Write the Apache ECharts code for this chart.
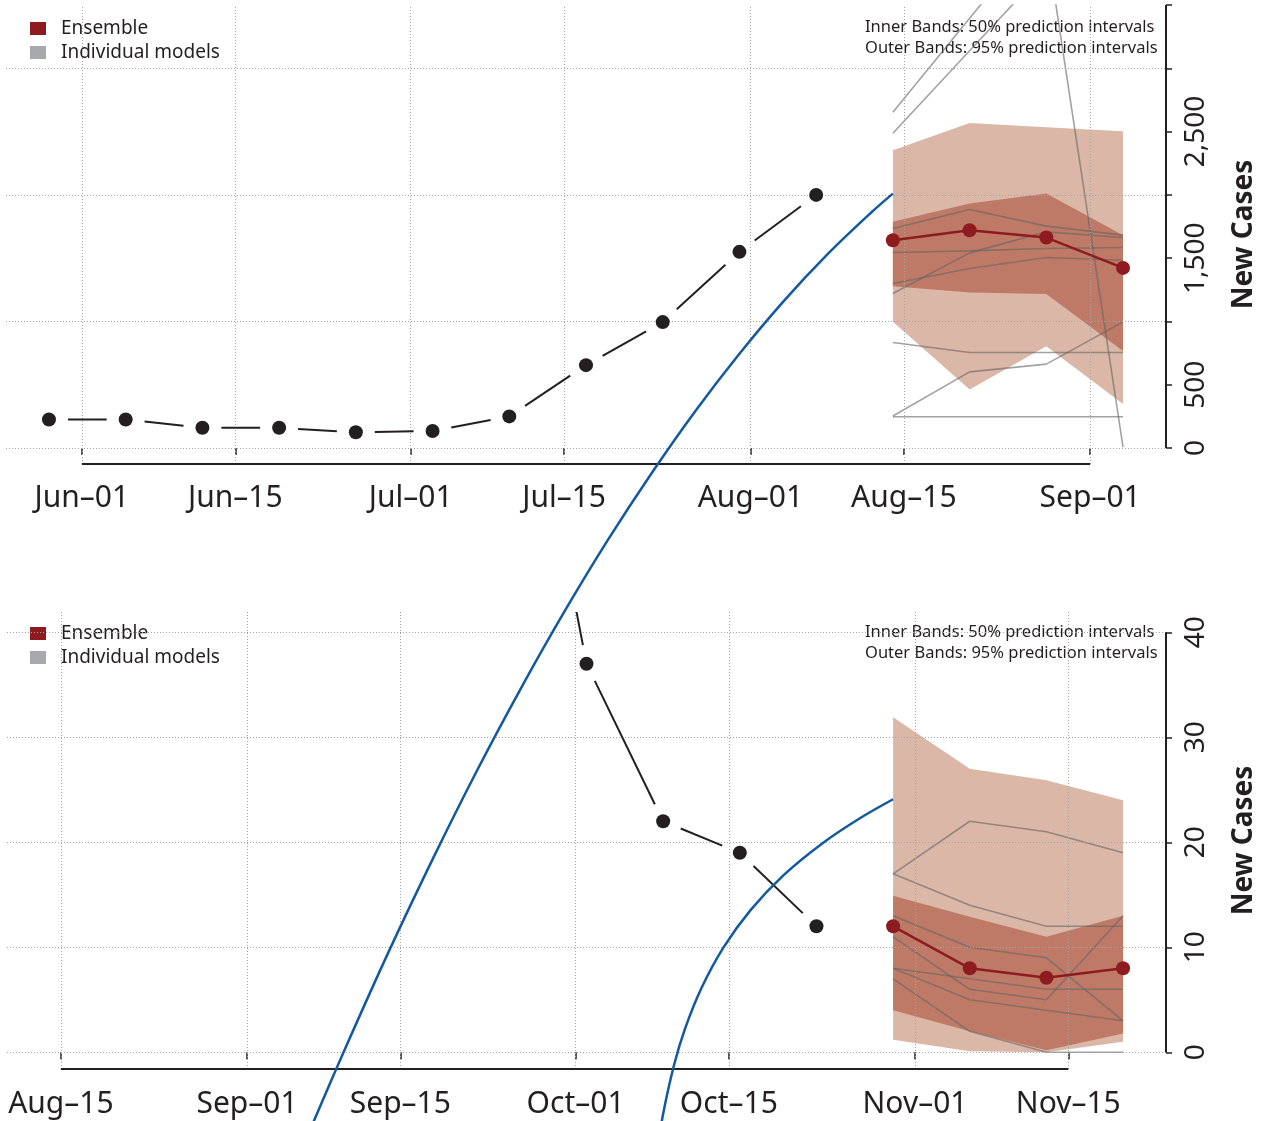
<!DOCTYPE html>
<html><head><meta charset="utf-8">
<script src="https://cdn.jsdelivr.net/npm/echarts@6/dist/echarts.min.js"></script>
<style>html,body{margin:0;padding:0;background:#fff}#c{width:1270px;height:1121px}</style>
</head><body><div id="c"></div><script>
// ---------- data ----------
const topTickDates = ['2020-06-01','2020-06-15','2020-07-01','2020-07-15','2020-08-01','2020-08-15','2020-09-01'];
const topTickLabels = ['Jun\u201301','Jun\u201315','Jul\u201301','Jul\u201315','Aug\u201301','Aug\u201315','Sep\u201301'];
const botTickDates = ['2020-08-15','2020-09-01','2020-09-15','2020-10-01','2020-10-15','2020-11-01','2020-11-15'];
const botTickLabels = ['Aug\u201315','Sep\u201301','Sep\u201315','Oct\u201301','Oct\u201315','Nov\u201301','Nov\u201315'];

const topYTicks = [0,500,1000,1500,2000,2500,3000,3500];
const topYLabelValues = [0,500,1500,2500];
const topYLabels = ['0','500','1,500','2,500'];
const topYGrid = [0,1000,2000,3000];
const botYTicks = [0,10,20,30,40];
const botYLabelValues = [0,10,20,30,40];
const botYLabels = ['0','10','20','30','40'];
const botYGrid = [0,10,20,30,40];

const topDateRange = ['2020-05-29','2020-09-04'];
const botDateRange = ['2020-08-14','2020-11-20'];

const topObsDates = ['2020-05-29','2020-06-05','2020-06-12','2020-06-19','2020-06-26','2020-07-03','2020-07-10','2020-07-17','2020-07-24','2020-07-31','2020-08-07'];
const topObsCases = [225,225,160,160,125,135,250,655,995,1550,2000];
const topFcDates = ['2020-08-14','2020-08-21','2020-08-28','2020-09-04'];
const topEnsemble = [1642,1721,1663,1423];
const topInnerLow = [1279,1229,1216,766];
const topInnerHigh = [1787,1932,2011,1682];
const topOuterLow = [997,463,805,347];
const topOuterHigh = [2353,2568,2534,2503];
const topModels = [
  [1734,1884,1753,1682],
  [1545,1558,1576,1584],
  [1300,1418,1505,1484],
  [1221,1542,1708,1663],
  [834,755,755,755],
  [253,602,663,997],
  [247,247,247,247],
  [2653,3395,4137,4880],
  [2487,3138,3789,4440],
  [6000,5000,4000,8]
];
const topFitDates = ['2020-06-22','2020-06-25','2020-06-29','2020-07-03','2020-07-07','2020-07-11','2020-07-15','2020-07-19','2020-07-23','2020-07-27','2020-07-31','2020-08-04','2020-08-08','2020-08-12','2020-08-14'];
const topFitCases = [-5351,-4749,-3978,-3249,-2557,-1908,-1297,-726,-197,295,745,1157,1528,1859,2010];

const botObsDates = ['2020-09-25','2020-10-02','2020-10-09','2020-10-16','2020-10-23'];
const botObsCases = [75,37,22,19,12];
const botFcDates = ['2020-10-30','2020-11-06','2020-11-13','2020-11-20'];
const botEnsemble = [12,8,7.1,8];
const botInnerLow = [4,2,0.2,1.8];
const botInnerHigh = [14.9,12.9,11,13];
const botOuterLow = [1.2,0.1,0,1];
const botOuterHigh = [31.9,27,25.9,24];
const botModels = [[17,22,21,19],[17,14,12,12],[13,10,9,3],[11,6,5,13],[8,7,6,6],[8,5,4,3],[7,2,0,0]];
const botFitDates = ['2020-10-08T12:00:00Z','2020-10-09','2020-10-10','2020-10-11','2020-10-12T12:00:00Z','2020-10-14T12:00:00Z','2020-10-17','2020-10-20','2020-10-23T12:00:00Z','2020-10-27','2020-10-30'];
const botFitCases = [-9.1,-5.85,-1.19,2.25,6.12,9.97,13.56,16.87,19.87,22.31,24.1];

// ---------- helpers ----------
const FONT = 'Noto Sans';
const INK = '#231f20';
const RED = '#8e1b1f';
const GRAYKEY = '#a7a9ac';
const BLUE = '#13599f';
const OUTER = '#dbb7a8';
const INNER = '#be7a66';
const MODEL = 'rgba(100,100,100,0.6)';
const ts = s => Date.parse(s.length === 10 ? s + 'T00:00:00Z' : s);
const pairs = (d, v) => d.map((x, i) => [ts(x), v[i]]);

function xRange(r) {
  const a = ts(r[0]), b = ts(r[1]), pad = (b - a) * 0.04;
  return [a - pad, b + pad];
}
const topX = xRange(topDateRange), botX = xRange(botDateRange);
const topYR = [-126, 3500], botYR = [-1.59, 41.93];

function bandSeries(gi, dates, lo, hi, color, z) {
  const t = dates.map(ts);
  return {
    type: 'custom', xAxisIndex: gi, yAxisIndex: gi, z: z, clip: true, silent: true,
    data: [[t[0], lo[0]]],
    renderItem: (params, api) => {
      const pts = [];
      for (let k = 0; k < t.length; k++) pts.push(api.coord([t[k], hi[k]]));
      for (let k = t.length - 1; k >= 0; k--) pts.push(api.coord([t[k], lo[k]]));
      return { type: 'polygon', shape: { points: pts }, style: { fill: color } };
    }
  };
}

function gapSegments(gi, dates, vals) {
  const t = dates.map(ts);
  const GAP = 19;
  return {
    type: 'custom', xAxisIndex: gi, yAxisIndex: gi, z: 6, clip: true, silent: true,
    data: pairs(dates, vals),
    renderItem: (params, api) => {
      const i = params.dataIndex;
      if (i >= t.length - 1) return null;
      const p = api.coord([t[i], vals[i]]);
      const q = api.coord([t[i + 1], vals[i + 1]]);
      const dx = q[0] - p[0], dy = q[1] - p[1], L = Math.hypot(dx, dy);
      if (L <= 2 * GAP) return null;
      const ux = dx / L, uy = dy / L;
      return {
        type: 'line',
        shape: { x1: p[0] + ux * GAP, y1: p[1] + uy * GAP, x2: q[0] - ux * GAP, y2: q[1] - uy * GAP },
        style: { stroke: INK, lineWidth: 2 }
      };
    }
  };
}

function frameSeries(gi, xr, yr, tickDates, yGrid, yTop) {
  const dot = { type: [1, 2], color: '#a4a4a4', width: 1 };
  const solid = { type: 'solid', color: INK, width: 2 };
  const data = [];
  yGrid.forEach(v => data.push({ yAxis: v, lineStyle: dot }));
  tickDates.forEach(d => data.push({ xAxis: ts(d), lineStyle: dot }));
  data.push([{ coord: [ts(tickDates[0]), yr[0]], lineStyle: solid }, { coord: [ts(tickDates[tickDates.length - 1]), yr[0]] }]);
  data.push([{ coord: [xr[1], 0], lineStyle: solid }, { coord: [xr[1], yTop] }]);
  return {
    type: 'line', xAxisIndex: gi, yAxisIndex: gi, z: 0, silent: true,
    data: [[xr[0], 0]], symbol: 'none', lineStyle: { opacity: 0 },
    markLine: { silent: true, symbol: ['none', 'none'], label: { show: false }, animation: false, data: data }
  };
}

function panelSeries(gi, p) {
  const s = [];
  s.push(frameSeries(gi, p.xr, p.yr, p.tickDates, p.yGrid, p.yTop));
  s.push(bandSeries(gi, p.fcDates, p.outerLow, p.outerHigh, OUTER, 1));
  s.push(bandSeries(gi, p.fcDates, p.innerLow, p.innerHigh, INNER, 2));
  p.models.forEach(m => s.push({
    name: 'Individual models', type: 'line', xAxisIndex: gi, yAxisIndex: gi, z: 3, silent: true,
    data: pairs(p.fcDates, m), symbol: 'none', clip: true,
    lineStyle: { color: MODEL, width: 1.6 }, itemStyle: { color: GRAYKEY }
  }));
  s.push({
    name: 'Ensemble', type: 'line', xAxisIndex: gi, yAxisIndex: gi, z: 5, silent: true,
    data: pairs(p.fcDates, p.ensemble), symbol: 'circle', symbolSize: 14, clip: true,
    lineStyle: { color: RED, width: 2.5 }, itemStyle: { color: RED }
  });
  s.push(gapSegments(gi, p.obsDates, p.obs));
  s.push({
    type: 'scatter', xAxisIndex: gi, yAxisIndex: gi, z: 7, silent: true,
    data: pairs(p.obsDates, p.obs).filter(d => d[1] <= p.yr[1]),
    symbol: 'circle', symbolSize: 14, itemStyle: { color: INK, opacity: 1 }
  });
  s.push({
    type: 'line', xAxisIndex: gi, yAxisIndex: gi, z: 8, silent: true, clip: false,
    data: pairs(p.fitDates, p.fit), symbol: 'none', smooth: 0.35,
    lineStyle: { color: BLUE, width: 2.5 }
  });
  return s;
}

const series = [].concat(
  panelSeries(0, { xr: topX, yr: topYR, yTop: 3500, tickDates: topTickDates, yGrid: topYGrid,
    fcDates: topFcDates, outerLow: topOuterLow, outerHigh: topOuterHigh, innerLow: topInnerLow, innerHigh: topInnerHigh,
    models: topModels, ensemble: topEnsemble, obsDates: topObsDates, obs: topObsCases, fitDates: topFitDates, fit: topFitCases }),
  panelSeries(1, { xr: botX, yr: botYR, yTop: 40, tickDates: botTickDates, yGrid: botYGrid,
    fcDates: botFcDates, outerLow: botOuterLow, outerHigh: botOuterHigh, innerLow: botInnerLow, innerHigh: botInnerHigh,
    models: botModels, ensemble: botEnsemble, obsDates: botObsDates, obs: botObsCases, fitDates: botFitDates, fit: botFitCases })
);

function xAxis(gi, xr, tickDates, tickLabels, margin) {
  const tv = tickDates.map(ts);
  return {
    type: 'value', gridIndex: gi, min: xr[0], max: xr[1], scale: true,
    axisLine: { show: false }, splitLine: { show: false },
    axisTick: { show: true, customValues: tv, length: 7, lineStyle: { color: INK, width: 1.5 } },
    axisLabel: {
      customValues: tv, margin: margin, fontSize: 30, color: INK, fontFamily: FONT,
      formatter: v => { const i = tv.indexOf(v); return i >= 0 ? tickLabels[i] : ''; }
    }
  };
}
function yAxis(gi, yr, ticks, labelVals, labels) {
  return {
    type: 'value', gridIndex: gi, position: 'right', min: yr[0], max: yr[1],
    axisLine: { show: false }, splitLine: { show: false },
    axisTick: { show: true, customValues: ticks, length: 6, lineStyle: { color: INK, width: 1.5 } },
    axisLabel: {
      customValues: labelVals, rotate: 90, margin: 16, fontSize: 28, color: INK, fontFamily: FONT,
      formatter: v => { const i = labelVals.indexOf(v); return i >= 0 ? labels[i] : ''; }
    },
    name: 'New Cases', nameLocation: 'middle', nameRotate: 90, nameGap: 64,
    nameTextStyle: { fontSize: 28, fontWeight: 'bold', color: INK, fontFamily: FONT }
  };
}
function legend(top) {
  return {
    left: 25, top: top, orient: 'vertical', itemWidth: 16, itemHeight: 13, itemGap: 5, selectedMode: false,
    textStyle: { fontSize: 19, color: INK, fontFamily: FONT, padding: [0, 0, 0, 10] },
    data: [
      { name: 'Ensemble', icon: 'rect', itemStyle: { color: RED, borderWidth: 0 } },
      { name: 'Individual models', icon: 'rect', itemStyle: { color: GRAYKEY, borderWidth: 0 } }
    ]
  };
}
function noteText(y) {
  return [
    { type: 'text', left: 865, top: y, style: { text: 'Inner Bands: 50% prediction intervals', fill: INK, font: '16.5px "Noto Sans"' } },
    { type: 'text', left: 865, top: y + 21, style: { text: 'Outer Bands: 95% prediction intervals', fill: INK, font: '16.5px "Noto Sans"' } }
  ];
}

const chart = echarts.init(document.getElementById('c'), null, { renderer: 'canvas' });
chart.setOption({
  animation: false,
  backgroundColor: '#ffffff',
  grid: [
    { left: 6, right: 104, top: 5, height: 459 },
    { left: 7, right: 104, top: 612, height: 457 }
  ],
  xAxis: [xAxis(0, topX, topTickDates, topTickLabels, 19), xAxis(1, botX, botTickDates, botTickLabels, 20)],
  yAxis: [yAxis(0, topYR, topYTicks, topYLabelValues, topYLabels), yAxis(1, botYR, botYTicks, botYLabelValues, botYLabels)],
  legend: [legend(14), legend(619)],
  graphic: noteText(19).concat(noteText(624)),
  series: series
});
</script></body></html>
